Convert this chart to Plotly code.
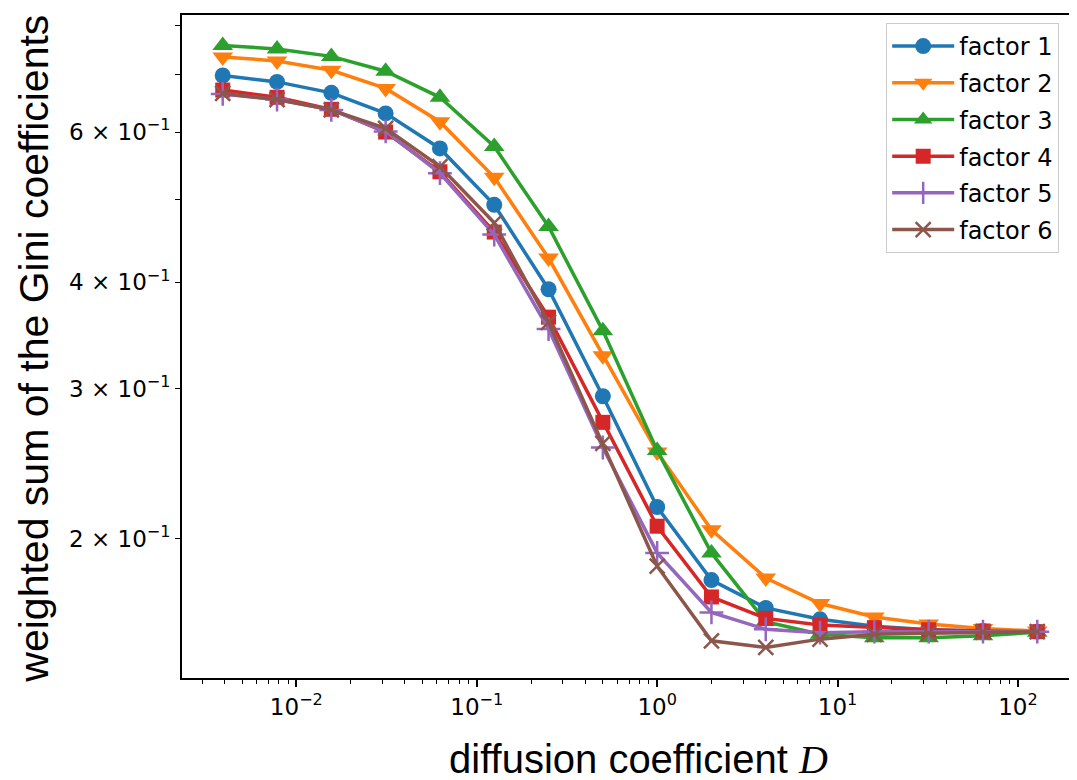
import plotly.graph_objects as go
import math

# ---- data ----
D = [0.00390625, 0.0078125, 0.015625, 0.03125, 0.0625, 0.125, 0.25, 0.5,
     1, 2, 4, 8, 16, 32, 64, 128]

factor1 = [0.699, 0.687, 0.667, 0.631, 0.574, 0.493, 0.3925, 0.294,
           0.218, 0.179, 0.166, 0.161, 0.158, 0.1565, 0.156, 0.1557]
factor2 = [0.735, 0.727, 0.709, 0.675, 0.617, 0.531, 0.427, 0.328,
           0.253, 0.205, 0.180, 0.168, 0.162, 0.159, 0.157, 0.156]
factor3 = [0.758, 0.751, 0.736, 0.707, 0.659, 0.577, 0.465, 0.351,
           0.254, 0.1926, 0.160, 0.1546, 0.1532, 0.1532, 0.154, 0.1555]
factor4 = [0.672, 0.659, 0.638, 0.600, 0.539, 0.458, 0.364, 0.274,
           0.207, 0.171, 0.1614, 0.1585, 0.1574, 0.1565, 0.156, 0.1557]
factor5 = [0.665, 0.655, 0.637, 0.601, 0.537, 0.455, 0.3525, 0.256,
           0.1926, 0.164, 0.1567, 0.1553, 0.1557, 0.1557, 0.1557, 0.1557]
factor6 = [0.666, 0.655, 0.637, 0.606, 0.5465, 0.4695, 0.359, 0.2588,
           0.1858, 0.1519, 0.1492, 0.1526, 0.1546, 0.155, 0.1555, 0.1557]

series_names = ["factor 1", "factor 2", "factor 3", "factor 4", "factor 5", "factor 6"]
series_values = [factor1, factor2, factor3, factor4, factor5, factor6]

x_tick_vals = [0.01, 0.1, 1, 10, 100]
x_tick_text = ["10<sup>−2</sup>", "10<sup>−1</sup>", "10<sup>0</sup>",
               "10<sup>1</sup>", "10<sup>2</sup>"]
y_tick_vals = [0.2, 0.3, 0.4, 0.6]
y_tick_text = ["2 × 10<sup>−1</sup>", "3 × 10<sup>−1</sup>", "4 × 10<sup>−1</sup>",
               "6 × 10<sup>−1</sup>"]
y_minor_vals = [0.5, 0.7, 0.8]

# ---- styles ----
colors = ["#1f77b4", "#ff7f0e", "#2ca02c", "#d62728", "#9467bd", "#8c564b"]
symbols = ["circle", "triangle-down", "triangle-up", "square", "cross-thin", "x-thin"]
sizes = [16, 18, 18, 15, 17, 15]

fig = go.Figure()
for i, (name, vals) in enumerate(zip(series_names, series_values)):
    thin = symbols[i].endswith("thin")
    fig.add_trace(go.Scatter(
        x=D, y=vals, name=name, mode="lines+markers",
        legendgroup=name,
        line=dict(color=colors[i], width=3.5),
        marker=dict(symbol=symbols[i], size=sizes[i], color=colors[i],
                    line=dict(color=colors[i], width=2.5 if thin else 0)),
    ))

minor_x = [m * 10 ** k for k in range(-3, 3) for m in range(2, 10)]

tickfont = dict(family="DejaVu Sans", size=23, color="black")

fig.update_layout(
    width=1077, height=780,
    margin=dict(l=174, r=7, t=5, b=110),
    paper_bgcolor="white", plot_bgcolor="white",
    showlegend=True,
    legend=dict(
        x=0.979, y=0.988, xanchor="right", yanchor="top",
        bgcolor="rgba(255,255,255,0.85)", bordercolor="#cccccc", borderwidth=1,
        font=dict(family="DejaVu Sans", size=24, color="black"),
        tracegroupgap=2.5, itemwidth=62,
    ),
    xaxis=dict(
        type="log", range=[-2.634, 2.333],
        tickmode="array", tickvals=x_tick_vals, ticktext=x_tick_text,
        ticks="outside", ticklen=7, tickwidth=1.5, tickcolor="black",
        minor=dict(tickmode="array", tickvals=minor_x, ticks="outside",
                   ticklen=4, tickwidth=1.2, tickcolor="black", showgrid=False),
        showline=True, linecolor="black", linewidth=1.8, mirror=True,
        showgrid=False, zeroline=False, tickfont=tickfont,
    ),
    yaxis=dict(
        type="log", range=[math.log10(0.1374), math.log10(0.823)],
        tickmode="array", tickvals=y_tick_vals, ticktext=y_tick_text,
        ticks="outside", ticklen=5, tickwidth=1.3, tickcolor="black",
        minor=dict(tickmode="array", tickvals=y_minor_vals, ticks="outside",
                   ticklen=5, tickwidth=1.3, tickcolor="black", showgrid=False),
        showline=True, linecolor="black", linewidth=1.8, mirror=True,
        showgrid=False, zeroline=False, tickfont=tickfont,
    ),
    annotations=[
        dict(text="diffusion coefficient <span style=\"font-family:'Liberation Serif'\"><i>D</i></span>",
             xref="paper", yref="paper", x=0.51, y=-0.1233,
             xanchor="center", yanchor="middle", showarrow=False,
             font=dict(family="Liberation Sans, Arial", size=40, color="black")),
        dict(text="weighted sum of the Gini coefficients",
             xref="paper", yref="paper", x=-0.165, y=0.497, textangle=-90,
             xanchor="center", yanchor="middle", showarrow=False,
             font=dict(family="Liberation Sans, Arial", size=41, color="black")),
    ],
)

fig.write_html("out.html")
